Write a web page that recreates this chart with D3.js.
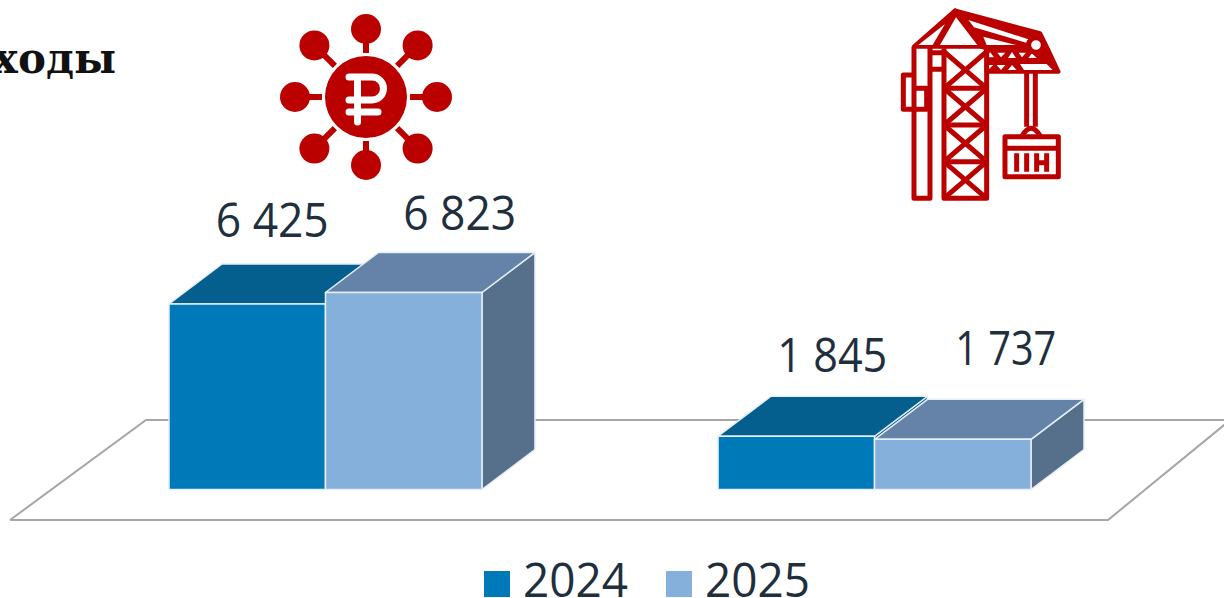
<!DOCTYPE html>
<html>
<head>
<meta charset="utf-8">
<script src="https://cdn.jsdelivr.net/npm/d3@7"></script>
<style>
  html, body { margin: 0; padding: 0; background: #fff; overflow: hidden; }
  svg { display: block; }
</style>
</head>
<body>
<svg id="chart" width="1224" height="598"></svg>
<script>
// data
const categories = ["Группа 1", "Группа 2"];
const years = ["2024", "2025"];
const values2024 = [6425, 1845];
const values2025 = [6823, 1737];
const labels2024 = ["6 425", "1 845"];
const labels2025 = ["6 823", "1 737"];

const svg = d3.select("#chart");
const textColor = "#1f2f3d";
const iconRed = "#bb0000";

// ── layout
const baseY = 489.5;
const depth = { x: 53, y: -40 };

const x0 = d3.scaleBand()
  .domain(categories)
  .range([169, 1031])
  .paddingInner(0.43);

const x1 = d3.scaleBand()
  .domain(years)
  .range([0, x0.bandwidth()]);

const y = d3.scaleLinear()
  .domain([0, 6823])
  .range([baseY, 292.5]);

const colors = {
  "2024": { front: "#0079b8", top: "#045e8e", side: "#045e8e" },
  "2025": { front: "#85b0db", top: "#6583a9", side: "#56708c" }
};

// label nudges and widths, same order as the bars
const labelNudge = {
  "2024": [{ dx: 25, dy: -67, w: 113 }, { dx: 36, dy: -64, w: 110 }],
  "2025": [{ dx: 56, dy: -63, w: 113 }, { dx: 53, dy: -74, w: 101 }]
};

// ── floor
svg.append("path")
  .attr("d", "M10,520 L1108,520 L1240,412 M10,520 L146,420 L1240,420")
  .attr("fill", "none")
  .attr("stroke", "#a6a6a6")
  .attr("stroke-width", 2);

// ── bars
const rows = [];
categories.forEach((c, i) => {
  rows.push({ cat: c, year: "2024", value: values2024[i], label: labels2024[i], i });
  rows.push({ cat: c, year: "2025", value: values2025[i], label: labels2025[i], i });
});

const bars = svg.append("g")
  .selectAll("g")
  .data(rows)
  .enter()
  .append("g")
  .attr("stroke", "#e6eef6")
  .attr("stroke-width", 1.5)
  .attr("stroke-linejoin", "round");

const left = d => x0(d.cat) + x1(d.year);
const right = d => left(d) + x1.bandwidth();

bars.append("path")
  .attr("fill", d => colors[d.year].side)
  .attr("d", d => `M${right(d)},${y(d.value)} l${depth.x},${depth.y} V${baseY + depth.y} L${right(d)},${baseY} Z`);

bars.append("path")
  .attr("fill", d => colors[d.year].top)
  .attr("d", d => `M${left(d)},${y(d.value)} l${depth.x},${depth.y} H${right(d) + depth.x} L${right(d)},${y(d.value)} Z`);

bars.append("rect")
  .attr("x", left)
  .attr("y", d => y(d.value))
  .attr("width", x1.bandwidth())
  .attr("height", d => baseY - y(d.value))
  .attr("fill", d => colors[d.year].front);

// ── value labels
svg.append("g")
  .selectAll("text")
  .data(rows)
  .enter()
  .append("text")
  .attr("x", d => left(d) + x1.bandwidth() / 2 + labelNudge[d.year][d.i].dx)
  .attr("y", d => y(d.value) + labelNudge[d.year][d.i].dy)
  .attr("text-anchor", "middle")
  .attr("font-family", "'Open Sans', sans-serif")
  .attr("font-size", 48)
  .attr("fill", textColor)
  .attr("textLength", d => labelNudge[d.year][d.i].w)
  .attr("lengthAdjust", "spacingAndGlyphs")
  .text(d => d.label);

// ── legend
const legend = svg.append("g");
const legendX = d3.scaleOrdinal().domain(years).range([484, 666]);

legend.selectAll("rect")
  .data(years)
  .enter()
  .append("rect")
  .attr("x", d => legendX(d))
  .attr("y", 571)
  .attr("width", 26)
  .attr("height", 26)
  .attr("fill", d => colors[d].front);

legend.selectAll("text")
  .data(years)
  .enter()
  .append("text")
  .attr("x", d => legendX(d) + 39)
  .attr("y", 597)
  .attr("font-family", "'Open Sans', sans-serif")
  .attr("font-size", 48)
  .attr("fill", textColor)
  .attr("textLength", 105)
  .attr("lengthAdjust", "spacingAndGlyphs")
  .text(d => d);

// ── heading, cut off by the left edge as in the original
svg.append("text")
  .attr("x", 116)
  .attr("y", 72.5)
  .attr("text-anchor", "end")
  .attr("font-family", "'DejaVu Serif', serif")
  .attr("font-weight", "bold")
  .attr("font-size", 42)
  .attr("fill", "#111")
  .text("расходы");

// ── ruble icon
const ruble = svg.append("g").attr("transform", "translate(366,97)");
const spokes = d3.range(8).map(i => i * Math.PI / 4);

ruble.selectAll("line")
  .data(spokes)
  .enter()
  .append("line")
  .attr("x1", a => 44 * Math.cos(a))
  .attr("y1", a => 44 * Math.sin(a))
  .attr("x2", a => 62 * Math.cos(a))
  .attr("y2", a => 62 * Math.sin(a))
  .attr("stroke", iconRed)
  .attr("stroke-width", 6);

ruble.selectAll("circle.dot")
  .data(spokes)
  .enter()
  .append("circle")
  .attr("class", "dot")
  .attr("cx", (a, i) => (i % 2 ? 73 : 71) * Math.cos(a))
  .attr("cy", (a, i) => (i % 2 ? 73 : 68) * Math.sin(a))
  .attr("r", 15)
  .attr("fill", iconRed);

ruble.append("circle").attr("r", 41).attr("fill", iconRed);

ruble.append("path")
  .attr("d", "M-8.5,25 V-20 H6 a11.5,11.5 0 0 1 0,23 H-17 M-17,-20 H-8.5 M-17,15 H12")
  .attr("fill", "none")
  .attr("stroke", "#fff")
  .attr("stroke-width", 7)
  .attr("stroke-linecap", "round")
  .attr("stroke-linejoin", "round");

// ── crane icon (drawn in zoomed units, then scaled down)
const crane = svg.append("g")
  .attr("transform", "translate(880,0) scale(0.3333)")
  .attr("stroke-linejoin", "round");

const craneSolid = [
  "M225,32 L480,100 L500,140 L535,215 H320 V145 L305,140 Z",
  "M102,140 L225,32 L305,140 Z"
];
const craneHoles = [
  "M115,135 L195,72 L158,135 Z",
  "M228,52 L180,135 L292,135 Z",
  "M265,60 L445,118 L438,128 L282,82 Z",
  "M310,110 L408,135 L320,135 Z",
  "M320,172 L330,156 L342,172 Z M352,158 L376,158 L363,172 Z M384,174 L396,156 L408,174 Z M416,158 L438,158 L426,172 Z M445,174 L456,160 L470,174 Z",
  "M324,210 L324,195 L340,195 Z M350,195 L376,195 L363,210 Z M384,210 L396,195 L410,210 Z",
  "M420,192 L500,192 L518,210 L432,210 Z"
];
const craneLines = [
  "M102,140 V595 H150 V140",
  "M192,145 V595 H320 V145",
  "M192,265 H320 M192,375 H320 M192,485 H320",
  "M192,155 L320,265 M320,155 L192,265 M192,265 L320,375 M320,265 L192,375 M192,375 L320,485 M320,375 L192,485 M192,485 L320,595 M320,485 L192,595",
  "M150,158 H190 M150,208 H190",
  "M102,225 H70 V328 H140 V265 H102",
  "M440,215 V380 M466,215 V380",
  "M425,410 Q453,360 482,410",
  "M375,410 H535 V530 H375 Z M375,445 H535",
  "M410,460 V515 M440,460 V515 M470,460 V515 M500,460 V515 M470,488 H500"
];

crane.selectAll("path.solid")
  .data(craneSolid)
  .enter()
  .append("path")
  .attr("class", "solid")
  .attr("d", d => d)
  .attr("fill", iconRed)
  .attr("stroke", iconRed)
  .attr("stroke-width", 13);

crane.selectAll("path.hole")
  .data(craneHoles)
  .enter()
  .append("path")
  .attr("class", "hole")
  .attr("d", d => d)
  .attr("fill", "#fff");

crane.selectAll("path.line")
  .data(craneLines)
  .enter()
  .append("path")
  .attr("class", "line")
  .attr("d", d => d)
  .attr("fill", "none")
  .attr("stroke", iconRed)
  .attr("stroke-width", 15);

crane.append("circle")
  .attr("cx", 468)
  .attr("cy", 135)
  .attr("r", 22)
  .attr("fill", "#fff")
  .attr("stroke", iconRed)
  .attr("stroke-width", 15);
</script>
</body>
</html>
